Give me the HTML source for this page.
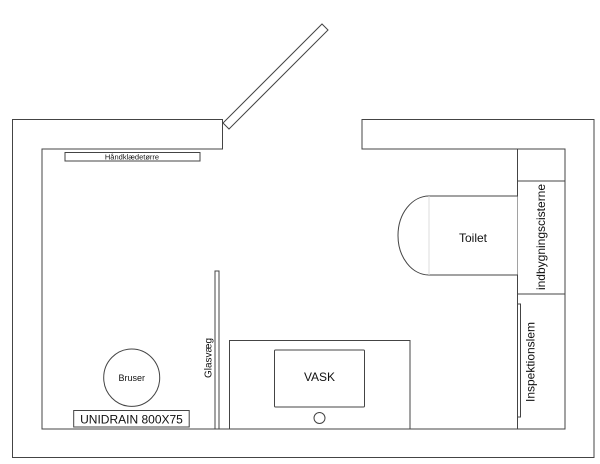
<!DOCTYPE html>
<html><head><meta charset="utf-8"><style>
html,body{margin:0;padding:0;background:#fff;}
svg{display:block;}
text{font-family:"Liberation Sans",sans-serif;fill:#111;}
</style></head><body>
<svg width="600" height="464" viewBox="0 0 600 464" xmlns="http://www.w3.org/2000/svg">
<g fill="#fff" stroke="#444" stroke-width="1">
<path d="M222.5,119.5 L12.5,119.5 L12.5,457.5 L594,457.5 L594,119.5 L362,119.5 L362,149 L565,149 L565,429 L42,429 L42,149 L222.5,149 Z"/>
<polygon points="223,123 229,129 328,30 322,24"/>
<rect x="65" y="152.5" width="135" height="8.5"/>
<rect x="517.5" y="149" width="47.5" height="32"/>
<rect x="517.5" y="181" width="47.5" height="113"/>
<rect x="517.5" y="294" width="47.5" height="135"/>
<rect x="517.5" y="304" width="3" height="113"/>
<path d="M517.5,196 L429,196 A31,39.5 0 0 0 429,275 L517.5,275"/>
<line x1="429" y1="196" x2="429" y2="275" stroke="#ddd"/>
<rect x="215" y="271" width="4" height="158"/>
<rect x="229.5" y="340.5" width="180.5" height="88.5"/>
<rect x="274.5" y="350" width="90" height="57" rx="1"/>
<circle cx="319.5" cy="418" r="5.5"/>
<ellipse cx="131.7" cy="377.7" rx="28" ry="28.7"/>
<rect x="73.7" y="410.5" width="115.5" height="16.5"/>
</g>
<text x="132" y="159.5" font-size="7.5" text-anchor="middle">Håndklædetørre</text>
<text x="473" y="242" font-size="12" text-anchor="middle">Toilet</text>
<text transform="translate(545,237) rotate(-90)" font-size="12" text-anchor="middle">indbygningscisterne</text>
<text transform="translate(534.5,362) rotate(-90)" font-size="12" text-anchor="middle">Inspektionslem</text>
<text transform="translate(211.5,358) rotate(-90)" font-size="10" text-anchor="middle">Glasvæg</text>
<text x="319.5" y="381" font-size="12" text-anchor="middle">VASK</text>
<text x="131.7" y="381" font-size="9" text-anchor="middle">Bruser</text>
<text x="131.5" y="423.5" font-size="12" text-anchor="middle">UNIDRAIN 800X75</text>
</svg>
</body></html>
